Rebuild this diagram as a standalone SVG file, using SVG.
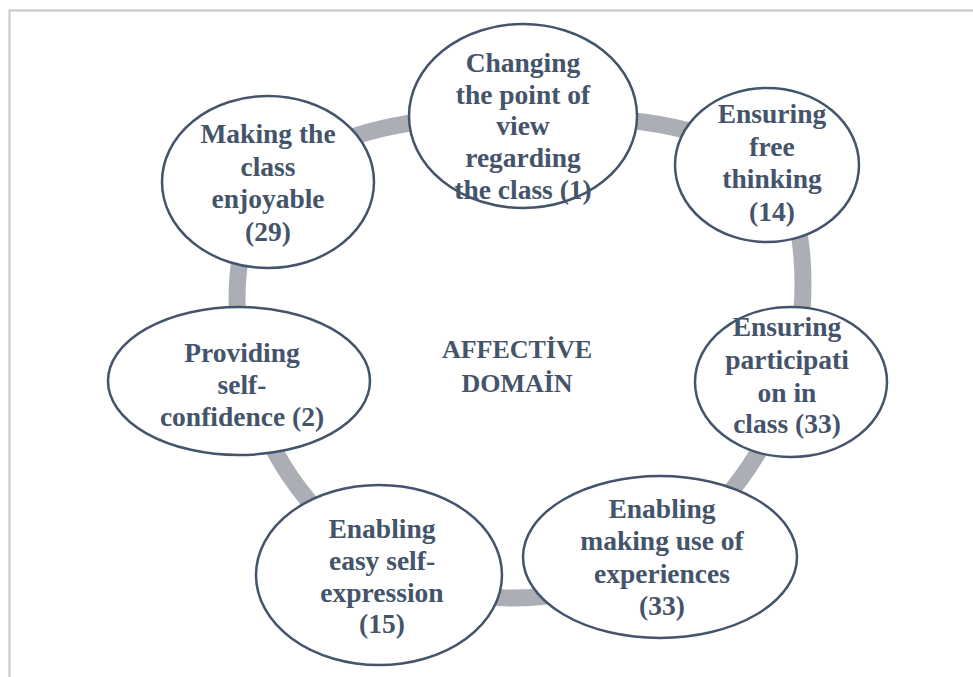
<svg xmlns="http://www.w3.org/2000/svg" width="973" height="677" viewBox="0 0 973 677">
<style>
.node{fill:#ffffff;stroke:#44546a;stroke-width:2.5}
.t{font-family:"Liberation Serif","Times New Roman",serif;font-weight:bold;font-size:27.5px;fill:#44546a;text-anchor:middle}
.c{font-size:26px}
.ring{fill:none;stroke:#abaeb5;stroke-width:17}
.frame{fill:none;stroke:#c6c6c6;stroke-width:2}
</style>
<rect x="0" y="0" width="973" height="677" fill="#ffffff"/>
<path class="frame" d="M9.5 677 V10.5 H973"/>
<g id="connectors">
<path class="ring" d="M525,115 C775,115 803,184 803,285 C803,458 673,598 512,598 C360,598 237,465 237,300 C237,189 295,115 525,115 Z"/>
</g>
<g id="center">
<text class="t c" x="517" y="358">AFFECTİVE</text>
<text class="t c" x="517" y="392">DOMAİN</text>
</g>
<g id="n1">
<ellipse class="node" cx="523" cy="116" rx="114" ry="92"/>
<text class="t" x="523" y="72">Changing</text>
<text class="t" x="523" y="104">the point of</text>
<text class="t" x="523" y="135">view</text>
<text class="t" x="523" y="167">regarding</text>
<text class="t" x="523" y="199">the class (1)</text>
</g>
<g id="n2">
<ellipse class="node" cx="268" cy="182" rx="106" ry="86"/>
<text class="t" x="268" y="143">Making the</text>
<text class="t" x="268" y="176">class</text>
<text class="t" x="268" y="208">enjoyable</text>
<text class="t" x="268" y="241">(29)</text>
</g>
<g id="n3">
<ellipse class="node" cx="767" cy="165" rx="92" ry="77"/>
<text class="t" x="772" y="123">Ensuring</text>
<text class="t" x="772" y="156">free</text>
<text class="t" x="772" y="188">thinking</text>
<text class="t" x="772" y="221">(14)</text>
</g>
<g id="n4">
<ellipse class="node" cx="791" cy="382" rx="96" ry="75"/>
<text class="t" x="787" y="336">Ensuring</text>
<text class="t" x="787" y="369">participati</text>
<text class="t" x="787" y="402">on in</text>
<text class="t" x="787" y="433">class (33)</text>
</g>
<g id="n5">
<ellipse class="node" cx="239" cy="381" rx="131" ry="74"/>
<text class="t" x="242" y="362">Providing</text>
<text class="t" x="242" y="394">self-</text>
<text class="t" x="242" y="426">confidence (2)</text>
</g>
<g id="n6">
<ellipse class="node" cx="379" cy="575" rx="123" ry="90"/>
<text class="t" x="382" y="538">Enabling</text>
<text class="t" x="382" y="570">easy self-</text>
<text class="t" x="382" y="602">expression</text>
<text class="t" x="382" y="633">(15)</text>
</g>
<g id="n7">
<ellipse class="node" cx="660" cy="557" rx="137" ry="81"/>
<text class="t" x="662" y="518">Enabling</text>
<text class="t" x="662" y="550">making use of</text>
<text class="t" x="662" y="583">experiences</text>
<text class="t" x="662" y="615">(33)</text>
</g>
</svg>
